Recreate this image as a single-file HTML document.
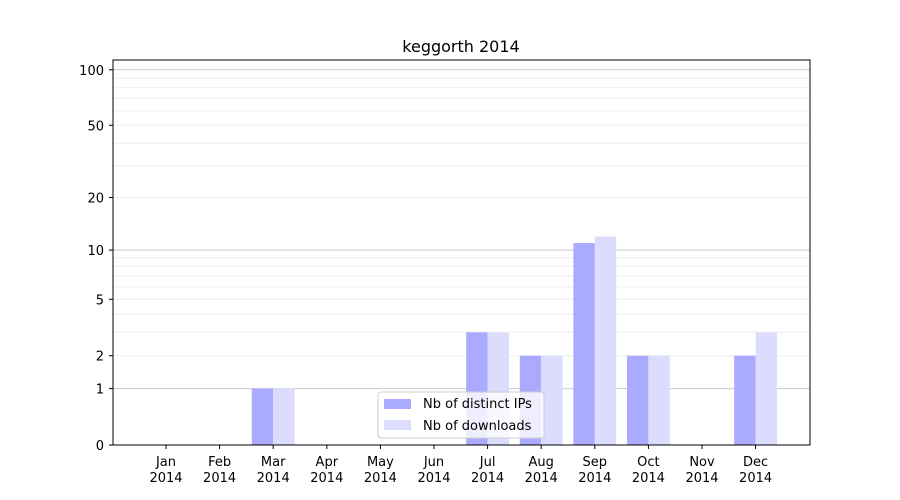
<!DOCTYPE html>
<html><head><meta charset="utf-8"><style>body{margin:0;background:#fff}svg{display:block;font-family:"DejaVu Sans","Liberation Sans",sans-serif}</style></head><body>
<svg width="900" height="500" xmlns="http://www.w3.org/2000/svg">
<g stroke="#eeeeee" stroke-width="1">
<line x1="113" x2="810" y1="355.7" y2="355.7"/><line x1="113" x2="810" y1="332.3" y2="332.3"/><line x1="113" x2="810" y1="314.2" y2="314.2"/><line x1="113" x2="810" y1="299.3" y2="299.3"/><line x1="113" x2="810" y1="286.8" y2="286.8"/><line x1="113" x2="810" y1="275.9" y2="275.9"/><line x1="113" x2="810" y1="266.4" y2="266.4"/><line x1="113" x2="810" y1="257.8" y2="257.8"/>
<line x1="113" x2="810" y1="197.5" y2="197.5"/><line x1="113" x2="810" y1="165.8" y2="165.8"/><line x1="113" x2="810" y1="143.1" y2="143.1"/><line x1="113" x2="810" y1="125.3" y2="125.3"/><line x1="113" x2="810" y1="110.8" y2="110.8"/><line x1="113" x2="810" y1="98.4" y2="98.4"/><line x1="113" x2="810" y1="87.7" y2="87.7"/><line x1="113" x2="810" y1="78.3" y2="78.3"/>
</g>
<g stroke="#cccccc" stroke-width="1">
<line x1="113" x2="810" y1="388.6" y2="388.6"/><line x1="113" x2="810" y1="250.1" y2="250.1"/><line x1="113" x2="810" y1="69.8" y2="69.8"/>
</g>
<g fill="#aaaaff">
<rect x="251.8" y="388.6" width="21.4" height="56.4"/>
<rect x="466.2" y="332.3" width="21.4" height="112.7"/>
<rect x="519.8" y="355.7" width="21.4" height="89.3"/>
<rect x="573.4" y="243" width="21.4" height="202"/>
<rect x="627" y="355.7" width="21.4" height="89.3"/>
<rect x="734.2" y="355.7" width="21.4" height="89.3"/>
</g>
<g fill="#dcdcff">
<rect x="273.2" y="388.6" width="21.4" height="56.4"/>
<rect x="487.6" y="332.3" width="21.4" height="112.7"/>
<rect x="541.2" y="355.7" width="21.4" height="89.3"/>
<rect x="594.8" y="236.5" width="21.4" height="208.5"/>
<rect x="648.4" y="355.7" width="21.4" height="89.3"/>
<rect x="755.6" y="332.3" width="21.4" height="112.7"/>
</g>
<rect x="113" y="60" width="697" height="385" fill="none" stroke="#000" stroke-width="1"/>
<g stroke="#000">
<line x1="109" x2="113" y1="445" y2="445"/><line x1="109" x2="113" y1="388.6" y2="388.6"/><line x1="109" x2="113" y1="355.7" y2="355.7"/><line x1="109" x2="113" y1="299.3" y2="299.3"/><line x1="109" x2="113" y1="250.1" y2="250.1"/><line x1="109" x2="113" y1="197.5" y2="197.5"/><line x1="109" x2="113" y1="125.3" y2="125.3"/><line x1="109" x2="113" y1="69.8" y2="69.8"/>
<line x1="166" x2="166" y1="445" y2="449"/><line x1="219.6" x2="219.6" y1="445" y2="449"/><line x1="273.2" x2="273.2" y1="445" y2="449"/><line x1="326.8" x2="326.8" y1="445" y2="449"/><line x1="380.4" x2="380.4" y1="445" y2="449"/><line x1="434" x2="434" y1="445" y2="449"/><line x1="487.6" x2="487.6" y1="445" y2="449"/><line x1="541.2" x2="541.2" y1="445" y2="449"/><line x1="594.8" x2="594.8" y1="445" y2="449"/><line x1="648.4" x2="648.4" y1="445" y2="449"/><line x1="702" x2="702" y1="445" y2="449"/><line x1="755.6" x2="755.6" y1="445" y2="449"/>
</g>
<g font-size="13" fill="#000" text-anchor="end">
<text x="104" y="450">0</text><text x="104" y="393.6">1</text><text x="104" y="360.7">2</text><text x="104" y="304.3">5</text><text x="104" y="255.1">10</text><text x="104" y="202.5">20</text><text x="104" y="130.3">50</text><text x="104" y="74.8">100</text>
</g>
<g font-size="13" fill="#000" text-anchor="middle">
<text x="166" y="466">Jan</text><text x="166" y="482">2014</text>
<text x="219.6" y="466">Feb</text><text x="219.6" y="482">2014</text>
<text x="273.2" y="466">Mar</text><text x="273.2" y="482">2014</text>
<text x="326.8" y="466">Apr</text><text x="326.8" y="482">2014</text>
<text x="380.4" y="466">May</text><text x="380.4" y="482">2014</text>
<text x="434" y="466">Jun</text><text x="434" y="482">2014</text>
<text x="487.6" y="466">Jul</text><text x="487.6" y="482">2014</text>
<text x="541.2" y="466">Aug</text><text x="541.2" y="482">2014</text>
<text x="594.8" y="466">Sep</text><text x="594.8" y="482">2014</text>
<text x="648.4" y="466">Oct</text><text x="648.4" y="482">2014</text>
<text x="702" y="466">Nov</text><text x="702" y="482">2014</text>
<text x="755.6" y="466">Dec</text><text x="755.6" y="482">2014</text>
</g>
<text x="461" y="52" font-size="16" text-anchor="middle">keggorth 2014</text>
<rect x="378" y="392" width="166" height="46" rx="3" fill="#fff" fill-opacity="0.8" stroke="#ccc"/>
<rect x="384" y="399" width="27" height="10" fill="#aaaaff"/>
<rect x="384" y="420" width="27" height="10" fill="#dcdcff"/>
<text x="423" y="408" font-size="13">Nb of distinct IPs</text>
<text x="423" y="430" font-size="13">Nb of downloads</text>
</svg>
</body></html>
